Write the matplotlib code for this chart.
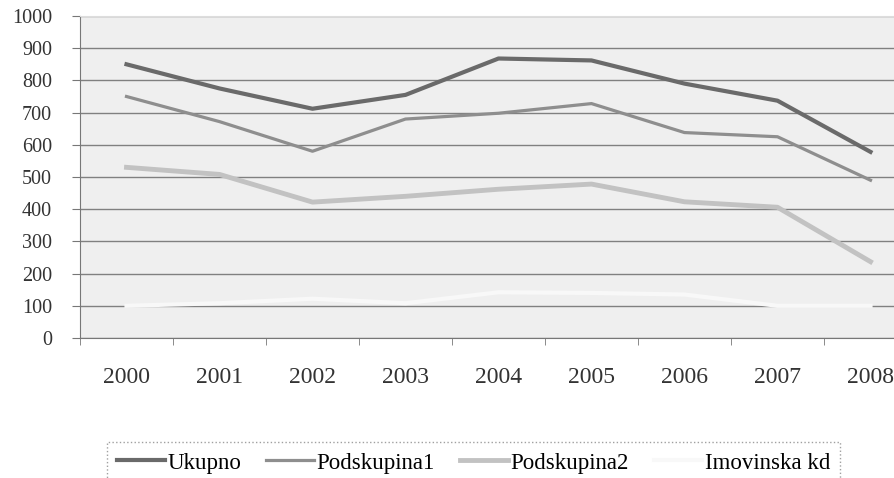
import matplotlib.pyplot as plt
import numpy as np

years = ['2000', '2001', '2002', '2003', '2004', '2005', '2006', '2007', '2008']
ukupno = [850, 775, 712, 755, 868, 862, 790, 737, 578]
podskupina1 = [750, 672, 580, 680, 698, 728, 638, 625, 490]
podskupina2 = [530, 508, 422, 440, 462, 478, 423, 406, 237]
imovinska = [100, 108, 122, 108, 142, 140, 135, 100, 100]

plt.rcParams['font.family'] = ['Liberation Serif', 'DejaVu Serif']

fig = plt.figure(figsize=(8.95, 4.78), dpi=100)
ax = fig.add_axes([80 / 895, 1 - 338 / 478, 837 / 895, 322 / 478])
ax.set_facecolor('#efefef')

x = np.arange(len(years))
ax.plot(x, ukupno, color='#6a6a6a', lw=3, label='Ukupno')
ax.plot(x, podskupina1, color='#8e8e8e', lw=2.3, label='Podskupina1')
ax.plot(x, podskupina2, color='#c2c2c2', lw=3.5, label='Podskupina2')
ax.plot(x, imovinska, color='#f8f8f8', lw=3, label='Imovinska kd')

ax.set_xlim(-0.5, 8.5)
ax.set_ylim(0, 1000)
ax.set_yticks(range(0, 1001, 100))
ax.yaxis.grid(True, color='#808080', lw=1)
ax.set_axisbelow(True)
ax.set_xticks(x)
ax.set_xticklabels(years)
ax.set_xticks(np.arange(-0.5, 9, 1), minor=True)
ax.tick_params(axis='x', which='major', length=0, pad=21, labelsize=17, colors='#333333')
ax.tick_params(axis='x', which='minor', length=5, color='#777777')
ax.tick_params(axis='y', length=6, pad=14, labelsize=14.5, colors='#333333', color='#777777')

for s in ['top', 'right']:
    ax.spines[s].set_color('#dddddd')
ax.spines['left'].set_color('#777777')
ax.spines['bottom'].set_color('#777777')

leg = fig.legend(loc='upper center', bbox_to_anchor=(0.529, 0.075), ncol=4,
                 frameon=True, fancybox=False, fontsize=16.5, handlelength=2.1,
                 handletextpad=0.1, columnspacing=1.1, borderaxespad=0, borderpad=0.45)
leg.get_frame().set_edgecolor('#888888')
leg.get_frame().set_linestyle(':')

fig.savefig('out.png', dpi=100)
